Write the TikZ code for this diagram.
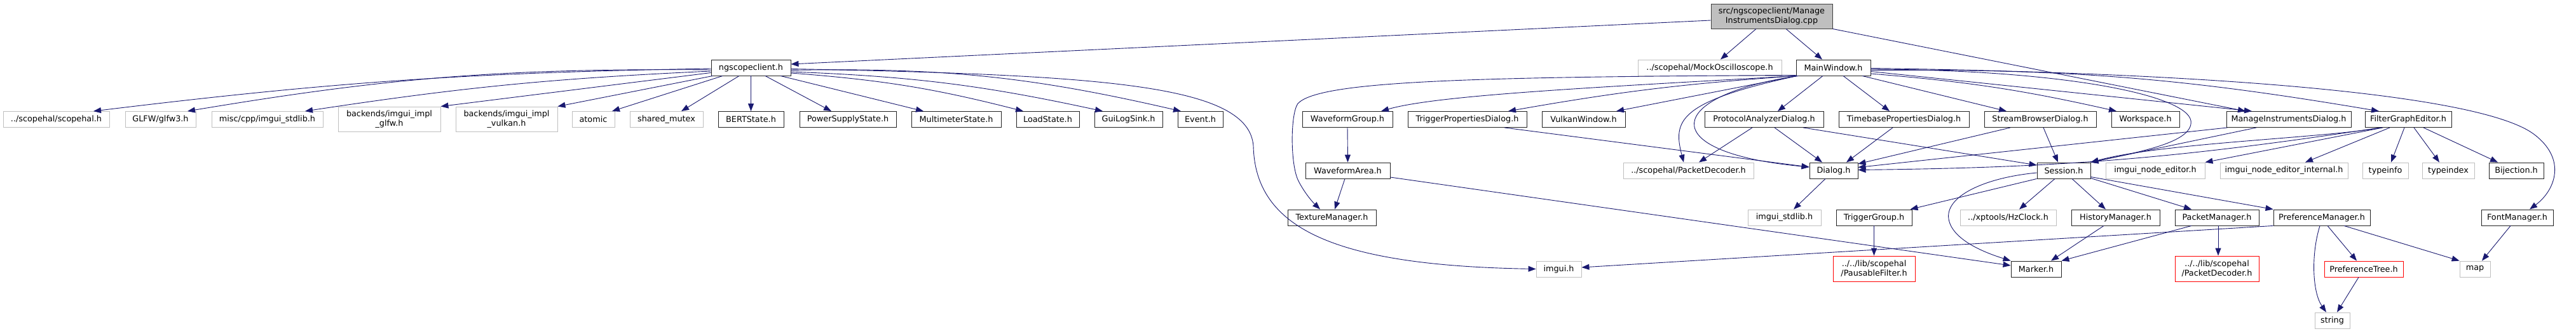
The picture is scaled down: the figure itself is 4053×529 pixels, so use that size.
\documentclass[tikz,border=0pt]{standalone}
\usepackage{fontspec}
\setmainfont{DejaVu Sans}
\usetikzlibrary{arrows.meta,calc}
\definecolor{edgec}{HTML}{191970}
\definecolor{gbord}{HTML}{BFBFBF}
\definecolor{rootfill}{HTML}{BFBFBF}
\definecolor{rootbord}{HTML}{404040}
\definecolor{bbord}{HTML}{222222}
\begin{document}
\begin{tikzpicture}[x=1pt,y=-1pt,font=\fontsize{12.8}{15}\selectfont,
  bx/.style={draw=bbord,line width=0.9pt,fill=white,inner sep=0pt,minimum height=25pt,text=black,align=center},
  gx/.style={bx,draw=gbord},
  rx/.style={bx,draw=red},
  e/.style={draw=edgec,line width=0.9pt,-{Triangle[length=12pt,width=9pt]}}]
\fill[white] (0,0) rectangle (4053,529);
\useasboundingbox (0,0) rectangle (4053,529);
% level 0-1
\node[bx,fill=rootfill,draw=rootbord,minimum width=191pt,minimum height=39pt] (root) at (2787.5,25.5) {src/ngscopeclient/Manage\\InstrumentsDialog.cpp};
\node[bx,minimum width=125pt] (ngs) at (1181.5,106.5) {ngscopeclient.h};
\node[gx,minimum width=226pt] (mock) at (2690,106.5) {../scopehal/MockOscilloscope.h};
\node[bx,minimum width=117pt] (mw) at (2884.5,106.5) {MainWindow.h};
% row 1
\node[gx,minimum width=167pt] (scopehal) at (88.5,188) {../scopehal/scopehal.h};
\node[gx,minimum width=111pt] (glfw) at (252.5,188) {GLFW/glfw3.h};
\node[gx,minimum width=175pt] (mstd) at (420.5,188) {misc/cpp/imgui\_stdlib.h};
\node[gx,minimum width=161pt,minimum height=39pt] (iglfw) at (612.5,187.5) {backends/imgui\_impl\\\_glfw.h};
\node[gx,minimum width=160pt,minimum height=39pt] (ivk) at (797,187.5) {backends/imgui\_impl\\\_vulkan.h};
\node[gx,minimum width=67pt] (atomic) at (933.5,188) {atomic};
\node[gx,minimum width=115pt] (smutex) at (1048.5,188) {shared\_mutex};
\node[bx,minimum width=103pt] (bert) at (1181.5,188) {BERTState.h};
\node[bx,minimum width=152pt] (pss) at (1334,188) {PowerSupplyState.h};
\node[bx,minimum width=141pt] (mms) at (1504.5,188) {MultimeterState.h};
\node[bx,minimum width=99pt] (load) at (1648.5,188) {LoadState.h};
\node[bx,minimum width=107pt] (gls) at (1775.5,188) {GuiLogSink.h};
\node[bx,minimum width=71pt] (event) at (1888.5,188) {Event.h};
\node[bx,minimum width=142pt] (wg) at (2120,188) {WaveformGroup.h};
\node[bx,minimum width=187pt] (tpd) at (2308.5,188) {TriggerPropertiesDialog.h};
\node[bx,minimum width=131pt] (vw) at (2491.5,188) {VulkanWindow.h};
\node[bx,minimum width=187pt] (pad) at (2775.5,188) {ProtocolAnalyzerDialog.h};
\node[bx,minimum width=205pt] (tbd) at (2995.5,188) {TimebasePropertiesDialog.h};
\node[bx,minimum width=176pt] (sbd) at (3210,188) {StreamBrowserDialog.h};
\node[bx,minimum width=107pt] (ws) at (3375.5,188) {Workspace.h};
\node[bx,minimum width=196pt] (midh) at (3601,188) {ManageInstrumentsDialog.h};
\node[bx,minimum width=136pt] (fge) at (3789,188) {FilterGraphEditor.h};
% row 2
\node[bx,minimum width=133pt] (wa) at (2120.5,268.5) {WaveformArea.h};
\node[gx,minimum width=205pt] (pdec) at (2656.5,268.5) {../scopehal/PacketDecoder.h};
\node[bx,minimum width=76pt] (dialog) at (2885,268.5) {Dialog.h};
\node[bx,minimum width=84pt] (session) at (3247,268.5) {Session.h};
\node[gx,minimum width=156pt] (ine) at (3391,268.5) {imgui\_node\_editor.h};
\node[gx,minimum width=201pt] (inei) at (3593.5,268.5) {imgui\_node\_editor\_internal.h};
\node[gx,minimum width=72pt] (tinfo) at (3753,268.5) {typeinfo};
\node[gx,minimum width=82pt] (tindex) at (3852,268.5) {typeindex};
\node[bx,minimum width=86pt] (bij) at (3959,268.5) {Bijection.h};
% row 3
\node[bx,minimum width=139pt] (tm) at (2095.5,342.5) {TextureManager.h};
\node[gx,minimum width=115pt] (istd) at (2807.5,342.5) {imgui\_stdlib.h};
\node[bx,minimum width=119pt] (tg) at (2948.5,342.5) {TriggerGroup.h};
\node[gx,minimum width=151pt] (hz) at (3159.5,342.5) {../xptools/HzClock.h};
\node[bx,minimum width=139pt] (hm) at (3328.5,342.5) {HistoryManager.h};
\node[bx,minimum width=132pt] (pm) at (3488,342.5) {PacketManager.h};
\node[bx,minimum width=152pt] (prefm) at (3653,342.5) {PreferenceManager.h};
\node[bx,minimum width=113pt] (fm) at (3960.5,342.5) {FontManager.h};
% row 4
\node[gx,minimum width=71pt] (imgui) at (2452.5,423.5) {imgui.h};
\node[bx,minimum width=79pt] (marker) at (3203.5,423.5) {Marker.h};
\node[rx,minimum width=124pt] (prefT) at (3719,423.5) {PreferenceTree.h};
\node[gx,minimum width=48pt] (map) at (3894,423.5) {map};
\node[rx,minimum width=129pt,minimum height=40pt] (pfilt) at (2948.5,423) {../../lib/scopehal\\/PausableFilter.h};
\node[rx,minimum width=132pt,minimum height=40pt] (pdlib) at (3488,423) {../../lib/scopehal\\/PacketDecoder.h};
\node[gx,minimum width=55pt] (string) at (3669.5,504.5) {string};
% edges from root
\draw[e] ($(root.west)+(0,6.5)$) -- ($(ngs.east)+(0,-5.5)$);
\draw[e] ($(root.south)+(-24.5,0)$) -- ($(mock.north)+(17,0)$);
\draw[e] ($(root.south)+(22.5,0)$) -- ($(mw.north)+(-17.5,0)$);
\draw[e] (root.south east) -- ($(midh.north)+(-68,0)$);
% edges from ngscopeclient.h
\draw[e] ($(ngs.west)+(0,1.5)$) to[bend right=3] ($(scopehal.north)+(58.5,0)$);
\draw[e] ($(ngs.west)+(0,3.5)$) to[bend right=5] ($(glfw.north)+(42.5,0)$);
\draw[e] ($(ngs.west)+(0,5.5)$) to[bend right=3] ($(mstd.north)+(59.5,0)$);
\draw[e] ($(ngs.west)+(0,8)$) -- (iglfw.north east);
\draw[e] ($(ngs.south west)+(3,0)$) -- (ivk.north east);
\draw[e] ($(ngs.south)+(-44.5,0)$) -- ($(atomic.north)+(29.5,0)$);
\draw[e] ($(ngs.south)+(-18.5,0)$) -- ($(smutex.north)+(23.5,0)$);
\draw[e] (ngs.south) -- (bert.north);
\draw[e] ($(ngs.south)+(22.5,0)$) -- ($(pss.north)+(-26,0)$);
\draw[e] ($(ngs.south)+(46.5,0)$) -- ($(mms.north)+(-51.5,0)$);
\draw[e] ($(ngs.east)+(0,8.5)$) to[bend left=5] ($(load.north)+(-38.5,0)$);
\draw[e] ($(ngs.east)+(0,6.5)$) to[bend left=5] ($(gls.north)+(-40.5,0)$);
\draw[e] ($(ngs.east)+(0,4)$) to[bend left=7] ($(event.north)+(-30.5,0)$);
\draw[e] ($(ngs.east)+(0,2)$) .. controls (1750,118) and (1965,135) .. (1972,230) .. controls (1975,360) and (2100,418) .. (imgui.west);
% edges from MainWindow.h
\draw[e] ($(mw.south west)+(0,-1)$) .. controls (2300,121) and (2075,128) .. (2042,163) .. controls (2030,180) and (2030,260) .. (2043,285) .. controls (2052,303) and (2065,318) .. ($(tm.north)+(-18.5,0)$);
\draw[e] ($(mw.south west)+(1,0)$) .. controls (2500,138) and (2260,150) .. ($(wg.north)+(53,0)$);
\draw[e] ($(mw.south west)+(1,0)$) to[bend right=3] ($(tpd.north)+(64.5,0)$);
\draw[e] ($(mw.south west)+(2,0)$) -- ($(vw.north)+(51.5,0)$);
\draw[e] ($(mw.south west)+(2,0)$) .. controls (2640,160) and (2632,190) .. ($(pdec.north)+(-7.5,0)$);
\draw[e] ($(mw.south west)+(4,0)$) .. controls (2620,150) and (2600,240) .. ($(dialog.west)+(0,-5.5)$);
\draw[e] ($(mw.south)+(-16.5,0)$) -- ($(pad.north)+(21.5,0)$);
\draw[e] ($(mw.south)+(15.5,0)$) -- ($(tbd.north)+(-22.5,0)$);
\draw[e] ($(mw.south)+(45.5,0)$) -- ($(sbd.north)+(-53,0)$);
\draw[e] ($(mw.east)+(0,9.5)$) to[bend left=4] ($(ws.north)+(-45.5,0)$);
\draw[e] ($(mw.east)+(0,6)$) -- ($(midh.north)+(-58,0)$);
\draw[e] ($(mw.east)+(0,4)$) to[bend left=5] ($(fge.north)+(-46,0)$);
\draw[e] ($(mw.east)+(0,1)$) .. controls (3500,115) and (3900,150) .. (3985,210) .. controls (4040,250) and (4020,300) .. ($(fm.north)+(19.5,0)$);
\draw[e] ($(mw.east)+(0,2.5)$) .. controls (3250,110) and (3440,150) .. (3447,190) .. controls (3452,225) and (3360,240) .. (session.north east);
% lower edges
\draw[e] (wg.south) -- (wa.north);
\draw[e] ($(wa.south)+(-4.5,0)$) -- ($(tm.north)+(4.5,0)$);
\draw[e] ($(wa.east)+(0,10.5)$) -- ($(marker.west)+(0,-5.5)$);
\draw[e] ($(tpd.south)+(58.5,0)$) -- ($(dialog.west)+(0,-5.5)$);
\draw[e] ($(pad.south)+(-18.5,0)$) -- ($(pdec.north)+(16.5,0)$);
\draw[e] ($(pad.south)+(16.5,0)$) -- ($(dialog.north)+(-18,0)$);
\draw[e] ($(pad.south)+(61.5,0)$) -- ($(session.west)+(0,-8.5)$);
\draw[e] ($(tbd.south)+(-17.5,0)$) -- ($(dialog.north)+(20,0)$);
\draw[e] ($(sbd.south)+(-47,0)$) -- ($(dialog.east)+(0,-10.5)$);
\draw[e] ($(sbd.south)+(5,0)$) -- ($(session.north)+(-9,0)$);
\draw[e] ($(midh.south west)+(2,0)$) -- ($(dialog.east)+(0,-5)$);
\draw[e] ($(midh.south)+(-51,0)$) -- (session.north east);
\draw[e] ($(fge.south)+(-42,0)$) .. controls (3650,218) and (3400,225) .. (session.north east);
\draw[e] ($(fge.south)+(-44,0)$) to[bend left=4] ($(dialog.east)+(0,-1)$);
\draw[e] ($(fge.south)+(-40,0)$) -- (ine.north east);
\draw[e] ($(fge.south)+(-29,0)$) -- ($(inei.north)+(33.5,0)$);
\draw[e] ($(fge.south)+(-6,0)$) -- ($(tinfo.north)+(9,0)$);
\draw[e] ($(fge.south)+(9,0)$) -- ($(tindex.north)+(-14,0)$);
\draw[e] ($(fge.south)+(24,0)$) -- ($(bij.north)+(-29,0)$);
\draw[e] ($(dialog.south)+(-13,0)$) -- ($(istd.north)+(14.5,0)$);
\draw[e] (session.south west) -- ($(tg.north east)+(-3,0)$);
\draw[e] ($(session.south)+(-14,0)$) -- ($(hz.north)+(17.5,0)$);
\draw[e] ($(session.south)+(13,0)$) -- ($(hm.north)+(-15.5,0)$);
\draw[e] ($(session.east)+(0,12)$) -- ($(pm.north)+(-40,0)$);
\draw[e] ($(session.east)+(0,10)$) -- (prefm.north west);
\draw[e] ($(session.west)+(0,3.5)$) .. controls (3120,280) and (3060,310) .. (3066,345) .. controls (3072,380) and (3130,400) .. (marker.north west);
\draw[e] (tg.south) -- (pfilt.north);
\draw[e] ($(hm.south)+(-18.5,0)$) -- ($(marker.north)+(23.5,0)$);
\draw[e] ($(pm.south)+(-40,0)$) -- (marker.north east);
\draw[e] ($(pm.south)+(2,0)$) -- ($(pdlib.north)+(2,0)$);
\draw[e] (prefm.south west) -- ($(imgui.east)+(0,-2.5)$);
\draw[e] ($(prefm.south)+(-3,0)$) .. controls (3636,400) and (3638,460) .. ($(string.north)+(-9.5,0)$);
\draw[e] ($(prefm.south)+(9,0)$) -- ($(prefT.north)+(-11,0)$);
\draw[e] ($(prefm.south)+(35,0)$) -- (map.north west);
\draw[e] ($(prefT.south)+(-8,0)$) -- ($(string.north)+(7.5,0)$);
\draw[e] ($(fm.south)+(-10.5,0)$) -- ($(map.north)+(11,0)$);
\end{tikzpicture}
\end{document}
